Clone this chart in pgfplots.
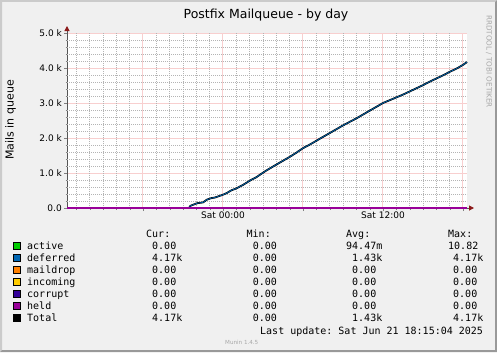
\documentclass[border=0pt]{standalone}
\usepackage{pgfplots}
\pgfplotsset{compat=1.18}
\usepackage{pgfplotstable}
\usepackage{fontspec}
\setmainfont{DejaVu Sans}
\setmonofont{DejaVu Sans Mono}
\usetikzlibrary{arrows.meta}

\definecolor{bgc}{HTML}{F0F0F0}
\definecolor{shadea}{HTML}{CBCBCB}
\definecolor{shadeb}{HTML}{999999}
\definecolor{majgridcol}{HTML}{F8CFCF}
\definecolor{mingrid}{HTML}{B4B4B4}
\definecolor{axisc}{HTML}{555555}
\definecolor{arrowc}{HTML}{8B1A1A}
\definecolor{cactive}{HTML}{00CC00}
\definecolor{cdeferred}{HTML}{0066B3}
\definecolor{cmaildrop}{HTML}{FF8000}
\definecolor{cincoming}{HTML}{FFCC00}
\definecolor{ccorrupt}{HTML}{330099}
\definecolor{cheld}{HTML}{990099}
\definecolor{wmark}{HTML}{A8A8A8}

% hours relative to Sat 00:00, mails in queue
\pgfplotstableread{
h total
-11.7 0
-2.55 0
-2.45 60
-2.2 100
-1.9 140
-1.5 160
-1.2 240
-0.9 280
-0.6 300
-0.3 340
0.0 380
0.3 430
0.6 500
1.0 560
1.5 660
2.1 800
2.5 880
2.85 970
3.2 1060
3.6 1150
4.0 1240
4.5 1350
5.0 1460
5.5 1580
6.0 1710
6.5 1810
7.0 1920
7.4 2010
8.0 2140
8.5 2250
9.0 2360
9.5 2460
10.0 2560
10.5 2670
11.0 2780
11.5 2890
12.0 3000
12.5 3080
13.0 3160
13.5 3240
14.0 3330
14.5 3420
15.0 3510
15.45 3600
16.0 3700
16.5 3790
17.0 3890
17.6 4000
18.0 4090
18.3 4170
}\totaltab

\begin{document}
\begin{tikzpicture}[x=1bp,y=1bp]
% frame
\fill[bgc] (0,0) rectangle (497,352);
\fill[shadea] (0,0) -- (0,352) -- (497,352) -- (495,350) -- (2,350) -- (2,2) -- cycle;
\fill[shadeb] (0,0) -- (497,0) -- (497,352) -- (495,350) -- (495,2) -- (2,2) -- cycle;
% canvas
\fill[white] (67,144) rectangle (467,319);
% major grid (6 h / 1000 mails), light red
\foreach \gx in {142.7,222.7,302.7,382.7,462.7} {
  \draw[majgridcol, line width=0.8bp] (\gx,144) -- (\gx,319);
}
\foreach \gy in {179,214,249,284,319} {
  \draw[majgridcol, line width=0.8bp] (67,\gy) -- (467,\gy);
}
% axis lines
\draw[axisc, line width=1bp, -{Triangle[length=5bp,width=5bp,fill=arrowc,color=arrowc]}] (67,143) -- (67,326);
\draw[axisc, line width=1bp, -{Triangle[length=5bp,width=5bp,fill=arrowc,color=arrowc]}] (66,144) -- (474,144);

\begin{axis}[
  at={(67bp,144bp)}, anchor=south west,
  scale only axis, width=400bp, height=175bp,
  xmin=-11.7, xmax=18.3, ymin=0, ymax=5000,
  clip=false,
  axis line style={draw=none},
  tick pos=left, tick align=outside,
  major tick length=3bp, minor tick length=1.5bp,
  xtick={-6,0,6,12,18},
  xticklabels={,Sat 00:00,,Sat 12:00,},
  minor xtick={-11,-10,-9,-8,-7,-5,-4,-3,-2,-1,1,2,3,4,5,7,8,9,10,11,13,14,15,16,17},
  ytick={0,1000,2000,3000,4000,5000},
  yticklabels={0.0,1.0 k,2.0 k,3.0 k,4.0 k,5.0 k},
  minor ytick={200,400,600,800,1200,1400,1600,1800,2200,2400,2600,2800,3200,3400,3600,3800,4200,4400,4600,4800},
  grid=minor,
  minor grid style={draw=mingrid, line width=1bp, dash pattern=on 1bp off 1bp},
  /pgf/number format/assume math mode=true,
  tick label style={font=\fontsize{9bp}{10bp}\selectfont},
  xticklabel style={inner sep=1bp},
  yticklabel style={inner sep=2bp},
]
\addplot[black, line width=1.8bp] table[x=h,y=total] {\totaltab};
\addplot[cactive, line width=1bp] coordinates {(-11.7,0) (-2.5,0) (-2.4,10.82) (-2.3,0) (18.3,0)};
\addplot[cdeferred, line width=0.7bp] table[x=h,y=total] {\totaltab};
\addplot[cmaildrop, line width=1bp] coordinates {(-11.7,0) (18.3,0)};
\addplot[cincoming, line width=1bp] coordinates {(-11.7,0) (18.3,0)};
\addplot[ccorrupt, line width=1bp] coordinates {(-11.7,0) (18.3,0)};
\addplot[cheld, line width=1.6bp] coordinates {(-11.7,0) (18.3,0)};
\end{axis}

% title and labels
\node[font=\fontsize{12.5bp}{14bp}\selectfont, anchor=base] at (266,334) {Postfix Mailqueue - by day};
\node[font=\fontsize{11bp}{12bp}\selectfont, rotate=90, anchor=center] at (10.5,232) {Mails in queue};
\node[font=\fontsize{7.2bp}{8bp}\selectfont, rotate=-90, text=wmark, anchor=west, inner sep=0] at (489,337) {RRDTOOL / TOBI OETIKER};

% legend
\begin{scope}[every node/.style={font=\ttfamily\fontsize{10bp}{12bp}\selectfont, anchor=base west, inner sep=0}]
\node at (146,114.7) {Cur:};
\node at (246.5,114.7) {Min:};
\node at (346,114.7) {Avg:};
\node at (448,114.7) {Max:};
% rows
\foreach \y/\c/\n/\cur/\cx/\avg/\ax/\mx/\mxx in {
  102.5/cactive/active/0.00/152/94.47m/346/10.82/448,
  90.5/cdeferred/deferred/4.17k/152/1.43k/352/4.17k/453,
  78.5/cmaildrop/maildrop/0.00/152/0.00/352/0.00/453,
  66.5/cincoming/incoming/0.00/152/0.00/352/0.00/453,
  54.5/ccorrupt/corrupt/0.00/152/0.00/352/0.00/453,
  42.5/cheld/held/0.00/152/0.00/352/0.00/453,
  30.5/black/Total/4.17k/152/1.43k/352/4.17k/453}{
  \filldraw[fill=\c, draw=black, line width=0.6bp] (13.3,\y+0.3) rectangle (20.7,\y+7.3);
  \node at (27,\y) {\n};
  \node at (\cx,\y) {\cur};
  \node at (252.7,\y) {0.00};
  \node at (\ax,\y) {\avg};
  \node at (\mxx,\y) {\mx};
}
\node at (260,18) {Last update: Sat Jun 21 18:15:04 2025};
\end{scope}
\node[font=\fontsize{5.6bp}{6bp}\selectfont, text=wmark, anchor=base west, inner sep=0] at (225,8) {Munin 1.4.5};
\end{tikzpicture}
\end{document}
